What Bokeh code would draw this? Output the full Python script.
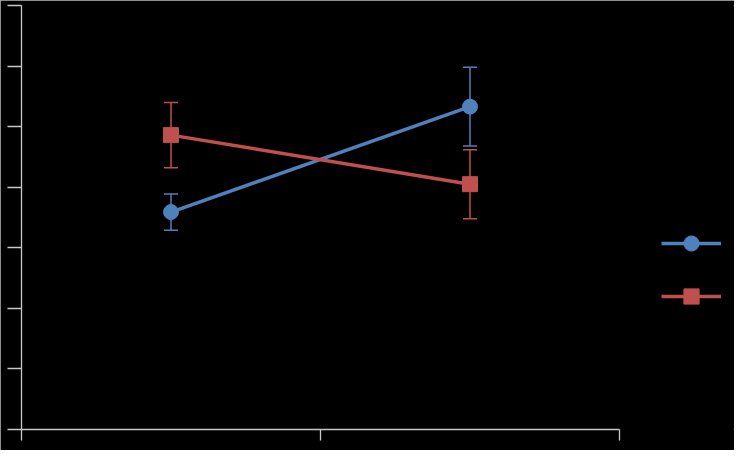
from bokeh.plotting import figure
from bokeh.models import (Whisker, ColumnDataSource, Legend, LegendItem, TeeHead,
                          FixedTicker, Range1d, CustomJSTickFormatter)
from bokeh.core.properties import value
from bokeh.embed import file_html
from bokeh.resources import INLINE

# ---- data ----
categories = ["Condition 1", "Condition 2"]
x_pos = [0.5, 1.5]
series1_name = "Series 1"
series1_mean = [35.9, 53.3]
series1_err = [3.0, 6.5]
series2_name = "Series 2"
series2_mean = [48.6, 40.5]
series2_err = [5.4, 5.7]
y_ticks = [0, 10, 20, 30, 40, 50, 60, 70]
x_ticks = [0, 1, 2]

BLUE = "#4F81BD"
RED = "#C0504D"
AXIS = "#C8C8C8"

# frame spans the legend area too; the x axis line is bounded to the two categories
p = figure(width=734, height=450, output_backend="svg", toolbar_location=None,
           x_range=Range1d(0, 2 * 713 / 598), y_range=Range1d(0, 70),
           min_border_left=21, min_border_right=0, min_border_top=5, min_border_bottom=21)
p.background_fill_color = "black"
p.border_fill_color = "black"
p.outline_line_color = None
p.grid.visible = False
p.styles = {"background-color": "black", "outline": "1px solid #bdbdbd",
            "outline-offset": "-1px"}

empty = CustomJSTickFormatter(code="return ''")
for ax, tick_out, ticks in ((p.yaxis[0], 14, y_ticks), (p.xaxis[0], 11, x_ticks)):
    ax.ticker = FixedTicker(ticks=ticks)
    ax.formatter = empty
    ax.axis_line_color = AXIS
    ax.axis_line_width = 1.3
    ax.major_tick_line_color = AXIS
    ax.major_tick_line_width = 1.3
    ax.major_tick_out = tick_out
    ax.major_tick_in = 0
    ax.minor_tick_line_color = None
    ax.major_label_standoff = 0
    ax.major_label_text_font_size = "1px"
p.xaxis[0].bounds = (x_ticks[0], x_ticks[-1])

def add_series(means, errs, color, marker):
    src = ColumnDataSource(dict(x=x_pos, y=means,
                                upper=[m + e for m, e in zip(means, errs)],
                                lower=[m - e for m, e in zip(means, errs)]))
    w = Whisker(source=src, base="x", upper="upper", lower="lower", dimension="height",
                line_color=color, line_width=1.5, level="underlay",
                upper_head=TeeHead(size=14, line_color=color, line_width=1.5),
                lower_head=TeeHead(size=14, line_color=color, line_width=1.5))
    p.add_layout(w)
    ln = p.line("x", "y", source=src, line_color=color, line_width=3.5)
    sc = p.scatter("x", "y", source=src, marker=marker, size=15,
                   fill_color=color, line_color=color)
    return ln, sc

l1, s1 = add_series(series1_mean, series1_err, BLUE, "circle")
l2, s2 = add_series(series2_mean, series2_err, RED, "square")

legend = Legend(items=[LegendItem(label=value(" "), renderers=[l1, s1]),
                       LegendItem(label=value(" "), renderers=[l2, s2])],
                location=(640, 114), glyph_width=60, glyph_height=38, spacing=15,
                padding=0, margin=0, label_standoff=0, label_width=0,
                label_text_font_size="1px", label_height=20,
                border_line_color=None, background_fill_alpha=0)
p.add_layout(legend)

open("out.html", "w").write(file_html(p, INLINE))
